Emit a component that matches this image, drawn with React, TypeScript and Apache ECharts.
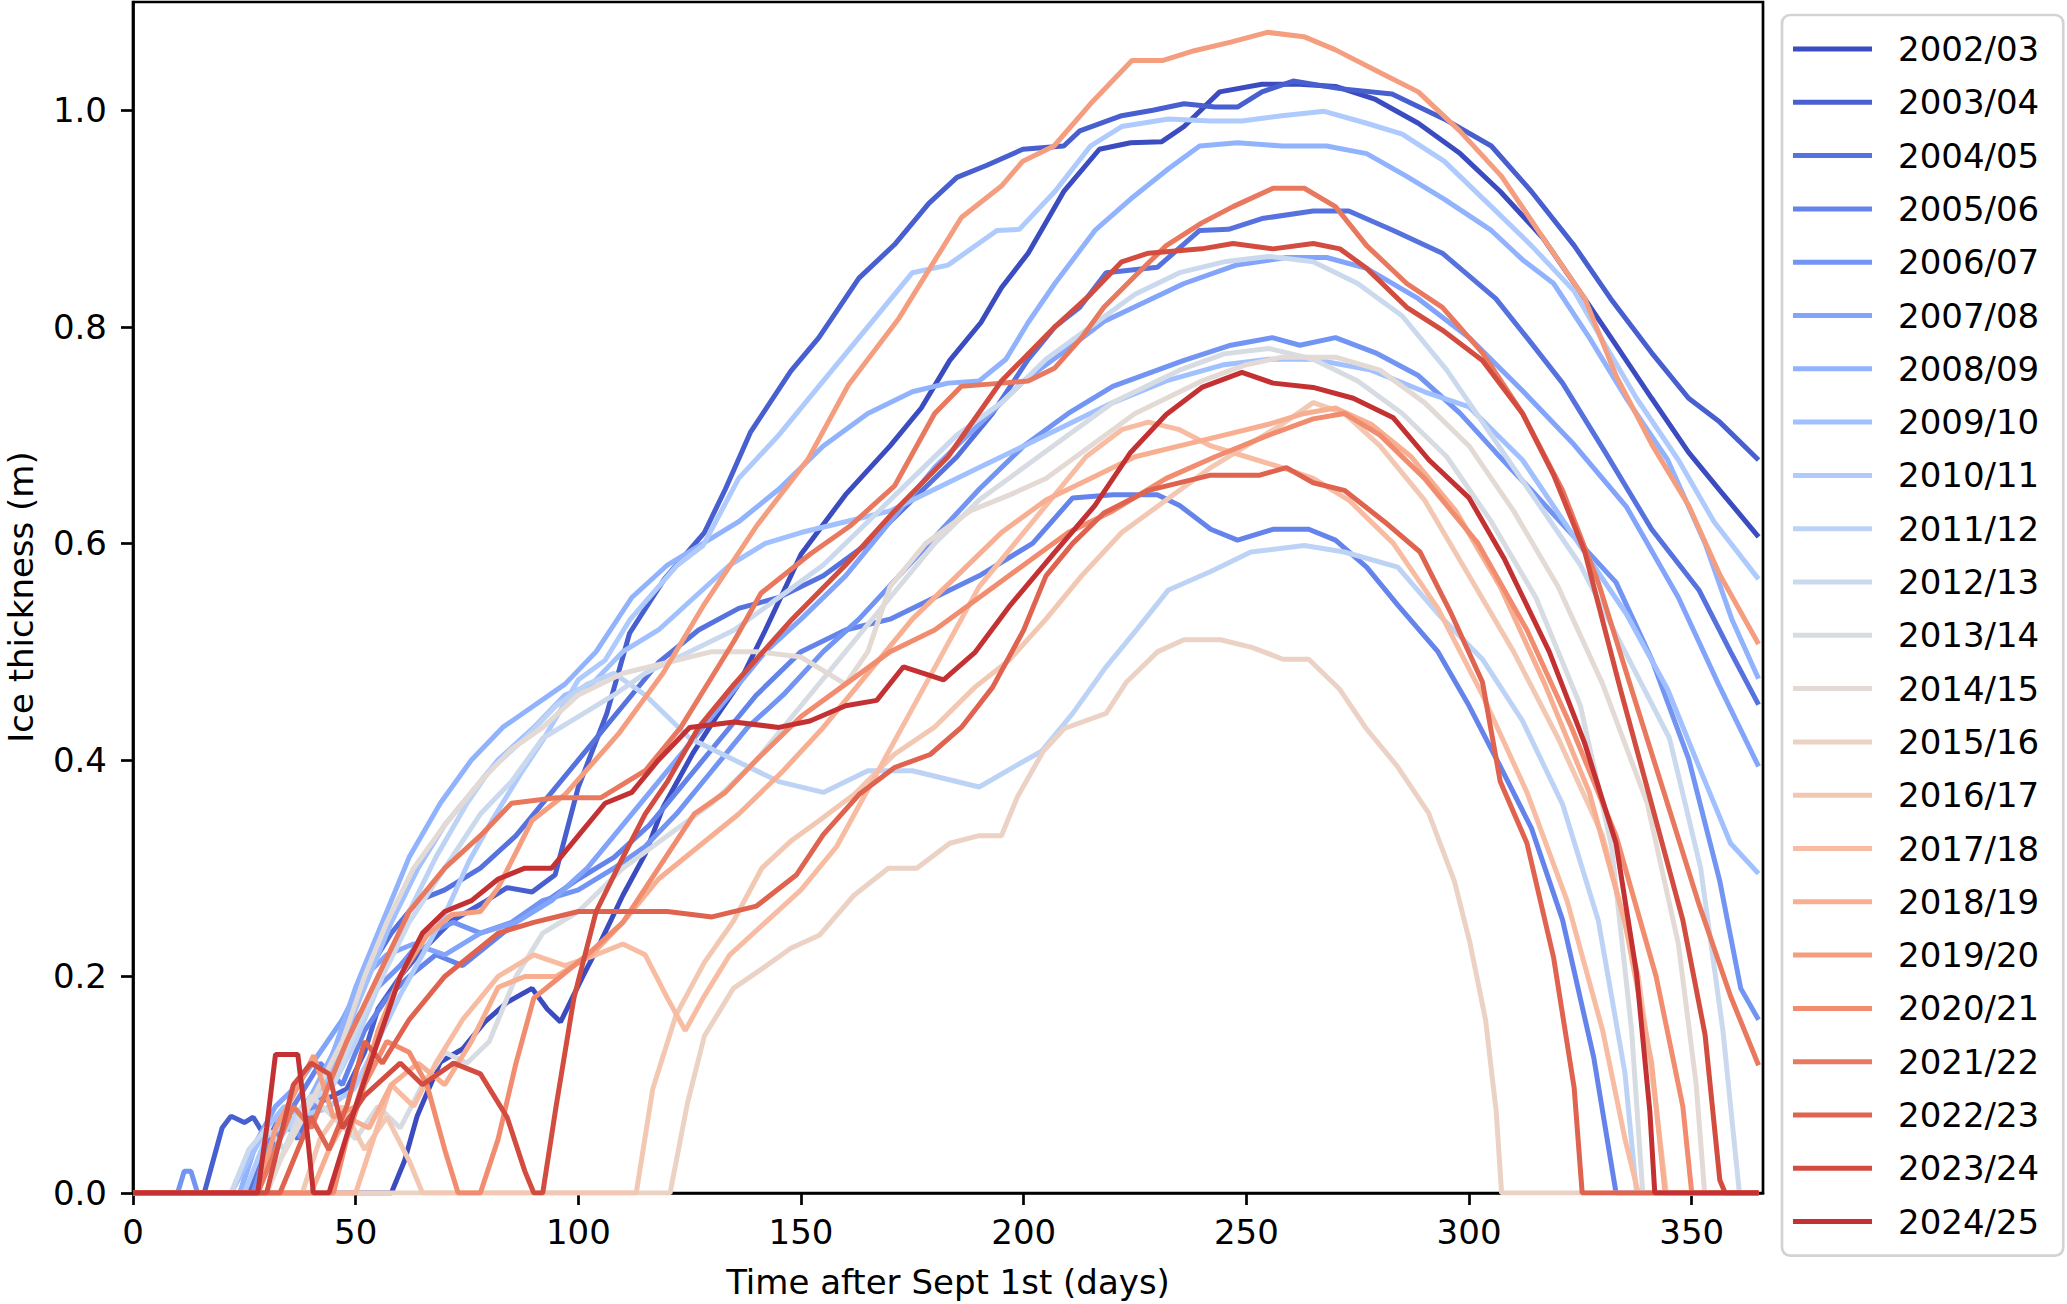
import React, { useEffect, useRef } from "react";
import * as echarts from "echarts";

const FONT = "DejaVu Sans";

const seasons = [
  "2002/03", "2003/04", "2004/05", "2005/06", "2006/07", "2007/08", "2008/09", "2009/10",
  "2010/11", "2011/12", "2012/13", "2013/14", "2014/15", "2015/16", "2016/17", "2017/18",
  "2018/19", "2019/20", "2020/21", "2021/22", "2022/23", "2023/24", "2024/25",
];

const colors = [
  "rgb(59,76,192)", "rgb(72,95,208)", "rgb(85,114,223)", "rgb(100,132,235)", "rgb(114,149,244)",
  "rgb(130,164,251)", "rgb(145,179,254)", "rgb(160,192,255)", "rgb(175,202,252)", "rgb(189,211,246)",
  "rgb(203,217,239)", "rgb(215,220,227)", "rgb(227,218,213)", "rgb(236,210,196)", "rgb(243,200,179)",
  "rgb(247,188,162)", "rgb(247,174,145)", "rgb(245,158,127)", "rgb(241,140,111)", "rgb(233,121,94)",
  "rgb(223,99,79)", "rgb(211,76,64)", "rgb(196,49,51)",
];

const xTicks = [0, 50, 100, 150, 200, 250, 300, 350];
const yTicks = [0, 0.2, 0.4, 0.6, 0.8, 1.0];

const s2002_03 = [[0,0],[58,0],[61,0.03],[63.8,0.071],[69,0.121],[74,0.133],[79,0.158],[84,0.176],[89.6,0.189],[93,0.17],[96,0.158],[101,0.2],[105,0.232],[110,0.275],[115,0.313],[119,0.356],[125.7,0.406],[131,0.44],[136,0.47],[142,0.52],[150,0.59],[160,0.645],[170,0.69],[177,0.725],[183.4,0.769],[190.4,0.804],[195,0.836],[201,0.868],[209,0.925],[217,0.964],[224,0.97],[231,0.971],[236,0.985],[244,1.017],[253.5,1.024],[262,1.024],[270,1.022],[279,1.01],[288.6,0.988],[298,0.96],[307,0.925],[316.6,0.882],[324.8,0.833],[333,0.783],[341,0.734],[349.3,0.684],[356.3,0.649],[365,0.606]];
const s2003_04 = [[0,0],[16,0],[18,0.03],[20,0.06],[22,0.071],[25,0.065],[27,0.07],[30,0.05],[34,0.06],[40,0.08],[48,0.096],[52,0.13],[55,0.17],[60,0.2],[64,0.22],[71.5,0.251],[79,0.269],[84,0.282],[89.6,0.278],[94.8,0.294],[100,0.375],[106.4,0.443],[111.5,0.517],[119.3,0.567],[128.3,0.61],[133,0.65],[138.7,0.703],[147.7,0.759],[154,0.79],[163,0.845],[171,0.876],[178.7,0.914],[185,0.938],[191.6,0.949],[199.8,0.964],[209,0.967],[212.6,0.981],[222,0.995],[229,1.0],[236,1.006],[243,1.003],[248,1.003],[253.5,1.017],[260.5,1.027],[271,1.02],[282.7,1.015],[294.4,0.992],[305,0.967],[314,0.925],[323.6,0.875],[331.8,0.826],[341,0.776],[349.3,0.734],[356.3,0.712],[365,0.677]];
const s2004_05 = [[0,0],[26,0],[29,0.04],[33,0.07],[37,0.05],[41,0.09],[46,0.14],[52,0.2],[58,0.24],[64,0.27],[70,0.28],[78,0.3],[86,0.33],[94,0.37],[102,0.41],[110,0.45],[118,0.49],[127,0.52],[136,0.54],[145,0.55],[155,0.57],[165,0.6],[175,0.64],[185,0.68],[193,0.72],[201,0.77],[207,0.8],[212.6,0.818],[218.5,0.85],[230,0.855],[239.5,0.889],[246,0.89],[253.5,0.9],[265,0.907],[273,0.907],[283,0.889],[294,0.868],[306,0.826],[313,0.79],[321,0.748],[330.6,0.684],[341,0.613],[351.6,0.557],[358.7,0.5],[365,0.451]];
const s2005_06 = [[0,0],[28,0],[31,0.04],[36,0.08],[42,0.12],[47,0.1],[52,0.15],[57,0.18],[62,0.2],[68,0.22],[74,0.21],[80,0.23],[86,0.25],[93,0.27],[100,0.29],[108,0.31],[116,0.34],[124,0.38],[132,0.42],[140,0.46],[150,0.5],[160,0.52],[170,0.53],[180,0.55],[190,0.57],[202,0.6],[211,0.642],[220,0.645],[230,0.645],[235,0.635],[242,0.613],[248,0.603],[256,0.613],[264,0.613],[270,0.603],[277,0.578],[284,0.543],[293,0.5],[300,0.45],[307,0.394],[314,0.337],[321,0.252],[328,0.125],[333,0],[365,0]];
const s2006_07 = [[0,0],[10,0],[11.5,0.02],[13,0.02],[14.5,0],[27,0],[30,0.04],[34,0.07],[38,0.05],[42,0.09],[46,0.12],[50,0.16],[55,0.19],[60,0.21],[66,0.24],[72,0.25],[78,0.24],[85,0.25],[92,0.27],[100,0.28],[108,0.3],[115,0.32],[122,0.35],[130,0.39],[138,0.43],[146,0.46],[155,0.5],[163,0.53],[172,0.57],[181,0.61],[190,0.65],[200,0.69],[210,0.72],[220,0.745],[230,0.76],[236,0.769],[246.5,0.783],[255.8,0.79],[262,0.783],[270,0.79],[279,0.776],[288.6,0.755],[298,0.72],[306,0.684],[314,0.649],[323.6,0.606],[333,0.564],[341,0.493],[349.3,0.401],[356.3,0.288],[361,0.189],[365,0.16]];
const s2007_08 = [[0,0],[24,0],[28,0.05],[32,0.08],[37,0.1],[42,0.13],[47,0.16],[52,0.2],[57,0.22],[63,0.23],[70,0.22],[78,0.24],[86,0.25],[94,0.27],[102,0.3],[110,0.34],[118,0.38],[126,0.42],[134,0.46],[142,0.5],[150,0.53],[160,0.57],[170,0.62],[180,0.67],[190,0.71],[200,0.75],[210,0.78],[218,0.805],[236,0.84],[247.7,0.857],[259,0.864],[268,0.864],[277,0.854],[288.6,0.826],[300,0.79],[312,0.741],[323.6,0.691],[335.3,0.634],[347,0.55],[356,0.47],[365,0.394]];
const s2008_09 = [[0,0],[24,0],[27,0.04],[31,0.07],[35,0.06],[40,0.09],[45,0.13],[50,0.19],[56,0.25],[62,0.31],[69,0.36],[76,0.4],[83,0.43],[90,0.45],[97,0.47],[104,0.5],[112,0.55],[120,0.58],[128,0.6],[136,0.62],[145,0.65],[155,0.69],[165,0.72],[175,0.74],[183,0.748],[190,0.75],[196,0.77],[201,0.804],[207,0.84],[216,0.889],[224,0.918],[232.5,0.946],[239.5,0.967],[248,0.97],[258,0.967],[268,0.967],[277,0.96],[286,0.939],[294.4,0.918],[305,0.889],[312,0.862],[319,0.84],[327,0.79],[335.3,0.734],[344.6,0.677],[353,0.6],[359,0.53],[365,0.475]];
const s2009_10 = [[0,0],[22,0],[26,0.03],[30,0.06],[34,0.08],[38,0.07],[43,0.1],[48,0.15],[53,0.2],[58,0.25],[64,0.3],[70,0.34],[76,0.37],[82,0.4],[90,0.43],[97,0.46],[103,0.47],[110,0.5],[118,0.52],[126,0.55],[134,0.58],[142,0.6],[150,0.61],[160,0.62],[170,0.63],[180,0.65],[190,0.67],[200,0.69],[210,0.71],[220,0.73],[232,0.75],[245,0.765],[255,0.77],[265,0.77],[278,0.76],[290,0.74],[300,0.726],[312,0.677],[323.6,0.606],[335.3,0.535],[344.6,0.465],[351.6,0.394],[358.7,0.323],[365,0.295]];
const s2010_11 = [[0,0],[25,0],[30,0.052],[36.7,0.071],[43,0.077],[49.6,0.096],[54.8,0.139],[60,0.183],[65,0.22],[70,0.257],[75.4,0.306],[80.6,0.344],[87,0.387],[92,0.418],[100,0.474],[106,0.492],[111.5,0.529],[122,0.579],[128,0.598],[136,0.66],[145,0.7],[155,0.75],[165,0.8],[175,0.85],[183,0.857],[194,0.889],[199,0.89],[207,0.925],[215,0.967],[222,0.985],[232.5,0.992],[242,0.99],[249,0.99],[258,0.995],[267.5,0.999],[277,0.988],[285,0.978],[294.4,0.953],[305,0.911],[314,0.875],[323.6,0.833],[330.6,0.783],[337.6,0.734],[347,0.677],[355,0.62],[365,0.567]];
const s2011_12 = [[0,0],[28,0],[33,0.05],[38,0.08],[45,0.1],[50,0.14],[56,0.2],[62,0.26],[68,0.31],[75,0.36],[80,0.39],[88,0.42],[95,0.45],[102,0.47],[108,0.48],[115,0.46],[125,0.42],[135,0.4],[145,0.38],[155,0.37],[165,0.39],[175,0.39],[190,0.375],[198,0.394],[204,0.408],[211,0.443],[218.5,0.486],[225.5,0.521],[232.5,0.557],[242,0.574],[251,0.592],[263,0.598],[272,0.592],[284,0.578],[293,0.535],[303,0.493],[312,0.436],[321,0.359],[329,0.252],[335,0.111],[337.6,0],[365,0]];
const s2012_13 = [[0,0],[22,0],[26,0.04],[30,0.06],[34,0.04],[38,0.08],[45,0.1],[50,0.15],[56,0.2],[62,0.25],[70,0.3],[78,0.35],[85,0.38],[92,0.42],[100,0.44],[108,0.46],[115,0.48],[125,0.5],[135,0.52],[145,0.55],[155,0.58],[165,0.62],[175,0.66],[185,0.7],[195,0.73],[205,0.77],[215,0.8],[225,0.83],[235,0.85],[245,0.86],[255,0.865],[265,0.86],[275,0.84],[285,0.81],[295,0.76],[305,0.7],[315,0.64],[325,0.58],[335,0.5],[345,0.42],[352,0.3],[357,0.15],[360.7,0],[365,0]];
const s2013_14 = [[0,0],[30,0],[35,0.05],[40,0.09],[45,0.07],[50,0.05],[55,0.08],[60,0.06],[65,0.1],[70,0.13],[75,0.12],[80,0.14],[86,0.2],[92,0.24],[100,0.26],[110,0.3],[120,0.33],[130,0.36],[140,0.4],[150,0.45],[160,0.5],[170,0.55],[180,0.6],[190,0.64],[200,0.67],[210,0.7],[220,0.73],[235,0.76],[245,0.775],[255,0.78],[265,0.77],[275,0.75],[285,0.72],[295,0.68],[305,0.62],[315,0.55],[325,0.45],[332,0.32],[336.5,0.15],[339,0],[365,0]];
const s2014_15 = [[0,0],[30,0],[33,0.03],[37,0.06],[42,0.1],[47,0.14],[52,0.2],[57,0.25],[63,0.3],[70,0.34],[78,0.38],[85,0.41],[92,0.43],[100,0.46],[110,0.48],[120,0.49],[130,0.5],[140,0.5],[150,0.495],[160,0.47],[165,0.5],[170,0.56],[178,0.6],[188,0.63],[197,0.645],[205,0.66],[215,0.69],[225,0.72],[240,0.75],[250,0.765],[258,0.772],[270,0.772],[280,0.76],[290,0.73],[300,0.69],[310,0.63],[320,0.56],[330,0.47],[340,0.36],[347,0.23],[351,0.1],[352.9,0],[365,0]];
const s2015_16 = [[0,0],[120.6,0],[124.5,0.083],[128.3,0.145],[134.8,0.189],[141.2,0.207],[147.7,0.226],[154.1,0.238],[161.9,0.275],[169.6,0.3],[176,0.3],[183.4,0.323],[190,0.33],[195,0.33],[198.6,0.366],[204.4,0.408],[209.1,0.429],[218.5,0.443],[223.1,0.472],[230.1,0.5],[236,0.511],[244.2,0.511],[251.2,0.504],[258.2,0.493],[264,0.493],[271,0.465],[276.9,0.429],[283.9,0.394],[290.9,0.351],[296.7,0.288],[300.2,0.231],[303.7,0.16],[306.1,0.075],[307.3,0],[365,0]];
const s2016_17 = [[0,0],[38,0],[42,0.05],[47,0.08],[52,0.04],[57,0.07],[62,0.03],[65,0],[113,0],[116.7,0.096],[121.9,0.164],[128.3,0.213],[134.8,0.251],[141.2,0.3],[147.7,0.325],[154.1,0.344],[161.9,0.368],[170.9,0.405],[179.9,0.43],[189,0.467],[196.7,0.492],[205,0.53],[213,0.57],[222,0.61],[232,0.64],[242,0.67],[250,0.69],[258,0.71],[265,0.73],[272,0.72],[280,0.69],[290,0.64],[300,0.57],[310,0.5],[320,0.42],[330,0.33],[338,0.2],[342,0.08],[344.3,0],[365,0]];
const s2017_18 = [[0,0],[50,0],[54,0.05],[58,0.1],[63,0.08],[68,0.12],[74,0.16],[82,0.2],[90,0.22],[97,0.21],[104,0.22],[110,0.23],[115,0.22],[120,0.18],[124,0.15],[128,0.18],[134,0.22],[142,0.25],[150,0.28],[158,0.32],[166,0.38],[174,0.44],[182,0.5],[190,0.56],[198,0.6],[206,0.64],[214,0.68],[222,0.705],[228,0.712],[235,0.705],[242,0.69],[250,0.68],[258,0.67],[265,0.66],[273,0.64],[283,0.6],[293,0.54],[303,0.46],[313,0.37],[322,0.27],[330,0.15],[335,0.05],[338,0],[365,0]];
const s2018_19 = [[0,0],[40,0],[44,0.04],[48,0.07],[53,0.06],[58,0.1],[64,0.12],[70,0.1],[76,0.14],[82,0.19],[88,0.2],[95,0.2],[103,0.22],[110,0.25],[118,0.29],[127,0.32],[136,0.35],[146,0.39],[155,0.43],[165,0.48],[175,0.53],[185,0.57],[195,0.61],[205,0.64],[215,0.66],[225,0.68],[235,0.69],[245,0.7],[255,0.71],[263,0.72],[270,0.725],[278,0.71],[287,0.68],[297,0.63],[307,0.56],[317,0.47],[327,0.37],[335,0.25],[341,0.12],[344,0],[365,0]];
const s2019_20 = [[0,0],[28,0],[32,0.06],[36,0.09],[40.6,0.127],[45,0.07],[50,0.08],[55,0.15],[60,0.2],[66,0.238],[71.5,0.257],[78,0.26],[82,0.282],[89.6,0.344],[97,0.368],[109,0.424],[119,0.48],[128,0.542],[140,0.616],[151.6,0.678],[160.6,0.746],[172,0.808],[186,0.901],[195,0.93],[199.8,0.953],[206.8,0.967],[215,1.006],[224.3,1.046],[231.3,1.046],[238.3,1.055],[246.5,1.063],[254.7,1.072],[262.9,1.068],[269.9,1.056],[280.4,1.034],[288.6,1.017],[297.9,0.981],[307.3,0.939],[317.8,0.875],[326,0.826],[333,0.755],[341.1,0.691],[349.3,0.635],[356.3,0.571],[365,0.507]];
const s2020_21 = [[0,0],[45,0],[48,0.05],[52,0.1],[57,0.14],[62,0.13],[66,0.1],[70,0.04],[73,0],[78,0],[82,0.05],[86,0.12],[90,0.18],[96,0.2],[102,0.22],[110,0.25],[118,0.3],[126,0.35],[133,0.37],[140,0.4],[150,0.44],[160,0.47],[170,0.5],[180,0.52],[190,0.55],[200,0.58],[210,0.61],[220,0.63],[232,0.66],[243,0.68],[255,0.7],[265,0.715],[272,0.72],[280,0.7],[290,0.66],[302,0.6],[313,0.52],[323,0.43],[333,0.33],[342,0.2],[348,0.08],[350,0],[365,0]];
const s2021_22 = [[0,0],[28,0],[32,0.04],[36,0.08],[40,0.06],[44,0.1],[48,0.14],[55,0.2],[62,0.26],[70,0.3],[78,0.33],[85,0.36],[95,0.365],[105,0.365],[115,0.39],[123,0.43],[135,0.51],[141,0.554],[152,0.59],[161,0.616],[171,0.653],[180,0.72],[186,0.745],[195,0.748],[201,0.75],[207,0.762],[213,0.79],[218,0.818],[225,0.847],[232,0.875],[240,0.896],[247,0.911],[256,0.928],[263,0.928],[270,0.911],[277,0.875],[286,0.84],[294,0.818],[303,0.776],[312,0.72],[321,0.649],[329,0.564],[336.5,0.465],[344.6,0.359],[351.6,0.267],[358.7,0.182],[365,0.118]];
const s2022_23 = [[0,0],[33,0],[36,0.03],[40,0.07],[44,0.04],[48,0.08],[52,0.14],[56,0.12],[62,0.16],[70,0.2],[76,0.22],[82,0.24],[90,0.25],[100,0.26],[111,0.26],[120,0.26],[130,0.255],[140,0.265],[149,0.294],[155,0.331],[163,0.368],[171,0.393],[179,0.405],[186,0.43],[193,0.467],[200,0.52],[205,0.57],[211,0.6],[218,0.628],[228,0.649],[242,0.663],[253,0.663],[259,0.67],[265,0.656],[272,0.649],[281,0.62],[289,0.592],[296,0.535],[303,0.472],[307,0.38],[313,0.323],[319,0.217],[323.6,0.097],[325.4,0],[365,0]];
const s2023_24 = [[0,0],[30,0],[33,0.05],[36,0.1],[40,0.12],[44,0.11],[47,0.06],[52,0.09],[60,0.12],[65,0.1],[72,0.12],[78,0.11],[84,0.07],[88,0.02],[90,0],[92,0],[95,0.08],[99,0.18],[104,0.26],[110,0.31],[115,0.35],[120,0.38],[127,0.43],[135,0.47],[148,0.53],[160,0.58],[171,0.63],[183,0.68],[195,0.75],[207,0.8],[215,0.83],[222,0.86],[228,0.868],[240,0.872],[247,0.877],[256,0.872],[265,0.877],[271,0.872],[277,0.854],[286,0.818],[294,0.797],[303,0.769],[312,0.72],[319,0.663],[326,0.592],[334,0.465],[341,0.359],[348,0.252],[353,0.146],[356.3,0.012],[357.5,0],[365,0]];
const s2024_25 = [[0,0],[28,0],[30,0.06],[32,0.128],[37,0.128],[39,0.06],[40.5,0],[44,0],[47,0.04],[50,0.08],[55,0.14],[60,0.2],[65,0.24],[70,0.26],[76,0.27],[82,0.29],[88,0.3],[94,0.3],[100,0.33],[106,0.36],[112,0.37],[118,0.4],[125,0.43],[135,0.435],[145,0.43],[152,0.436],[160,0.45],[167,0.455],[173,0.486],[182,0.474],[189,0.499],[197,0.543],[207,0.592],[216,0.635],[224,0.684],[232,0.719],[240,0.744],[249,0.758],[256,0.748],[265,0.744],[274,0.734],[283,0.716],[291,0.677],[300,0.642],[308,0.585],[318,0.5],[326,0.415],[333,0.323],[337.6,0.203],[340.6,0.075],[341.7,0],[365,0]];

const seriesData = [
  s2002_03, s2003_04, s2004_05, s2005_06, s2006_07, s2007_08, s2008_09, s2009_10,
  s2010_11, s2011_12, s2012_13, s2013_14, s2014_15, s2015_16, s2016_17, s2017_18,
  s2018_19, s2019_20, s2020_21, s2021_22, s2022_23, s2023_24, s2024_25,
];

export default function App() {
  const ref = useRef<HTMLDivElement>(null);
  useEffect(() => {
    document.body.style.margin = "0";
    const chart = echarts.init(ref.current as HTMLDivElement, null, { renderer: "svg" });
    const axisCommon = {
      type: "value" as const,
      axisLine: { show: true, onZero: false, lineStyle: { color: "#000", width: 2.7 } },
      splitLine: { show: false },
    };
    chart.setOption({
      animation: false,
      backgroundColor: "#fff",
      textStyle: { fontFamily: FONT },
      grid: {
        left: 133, top: 2, width: 1630, height: 1191,
        show: true, borderColor: "#000", borderWidth: 2.7, backgroundColor: "transparent",
      },
      xAxis: {
        ...axisCommon,
        min: 0, max: 366, interval: 50,
        axisTick: { show: true, inside: false, length: 12, lineStyle: { color: "#000", width: 2.7 }, customValues: xTicks },
        axisLabel: { customValues: xTicks, fontSize: 34, color: "#000", margin: 22, fontFamily: FONT },
      },
      yAxis: {
        ...axisCommon,
        min: 0, max: 1.1, interval: 0.1,
        axisTick: { show: true, inside: false, length: 12, lineStyle: { color: "#000", width: 2.7 }, customValues: yTicks },
        axisLabel: {
          customValues: yTicks, fontSize: 34, color: "#000", margin: 26, fontFamily: FONT,
          formatter: (v: number) => v.toFixed(1),
        },
      },
      legend: {
        orient: "vertical",
        left: 1782, top: 15,
        padding: [17, 24, 17, 11],
        icon: "rect",
        itemWidth: 79, itemHeight: 5, itemGap: 19.3,
        backgroundColor: "#fff",
        borderColor: "#d3d3d3", borderWidth: 2.7, borderRadius: 8,
        selectedMode: false,
        textStyle: { fontSize: 34, color: "#000", fontFamily: FONT, padding: [0, 0, 0, 21] },
        data: seasons,
      },
      graphic: [
        {
          type: "text", x: 948, y: 1282,
          style: { text: "Time after Sept 1st (days)", textAlign: "center", textVerticalAlign: "middle", fontSize: 34, fontFamily: FONT, fill: "#000" },
        },
        {
          type: "text", x: 21, y: 597, rotation: Math.PI / 2,
          style: { text: "Ice thickness (m)", textAlign: "center", textVerticalAlign: "middle", fontSize: 34, fontFamily: FONT, fill: "#000" },
        },
      ],
      series: seasons.map((name, i) => ({
        name,
        type: "line",
        data: seriesData[i],
        showSymbol: false,
        symbol: "none",
        clip: true,
        lineStyle: { width: 5, color: colors[i] },
        itemStyle: { color: colors[i] },
        emphasis: { disabled: true },
      })),
    });
    return () => chart.dispose();
  }, []);
  return <div ref={ref} style={{ width: 2067, height: 1304, background: "#fff" }} />;
}
